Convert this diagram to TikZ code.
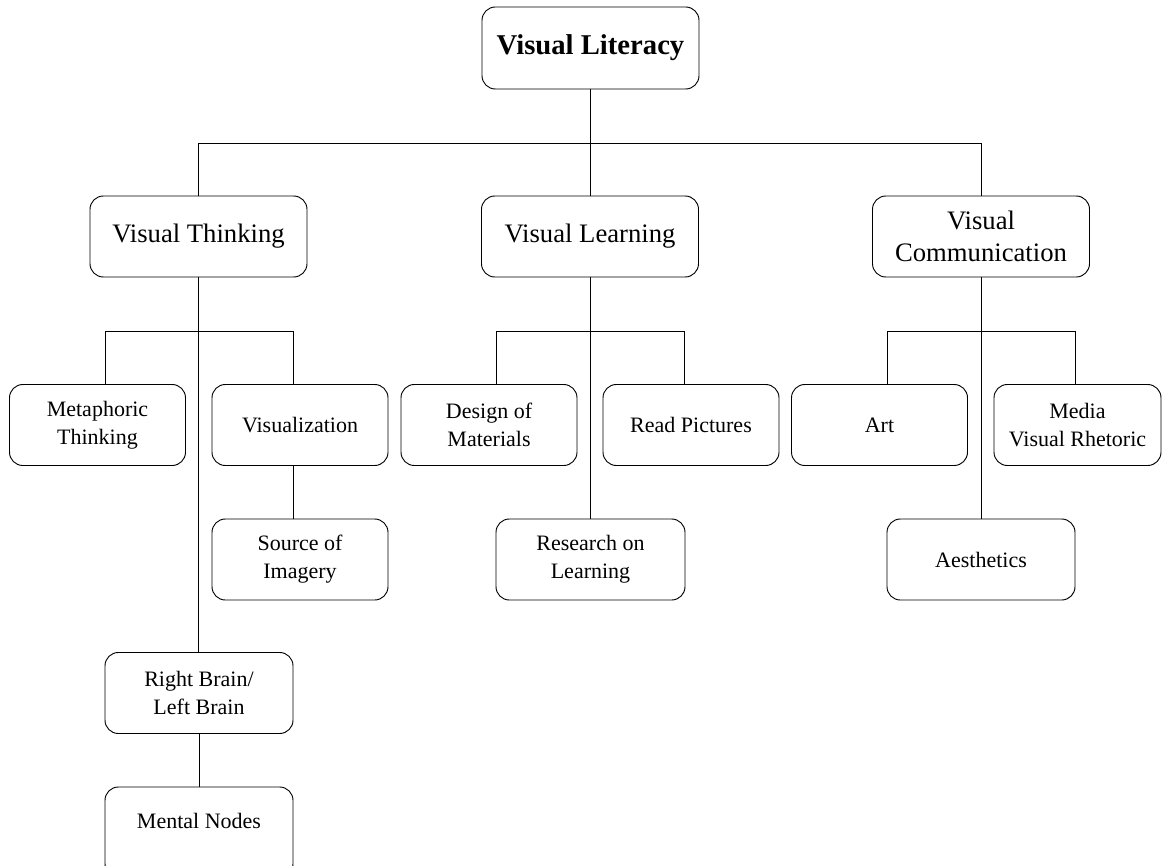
\documentclass[tikz,border=0pt]{standalone}
\usepackage{fontspec}
\setmainfont{Liberation Serif}
\usetikzlibrary{positioning}
\usetikzlibrary{calc}

\begin{document}
\begin{tikzpicture}[x=0.75pt, y=-0.75pt, line width=0.7pt,
    box/.style={draw=black, rounded corners=10pt, align=center, inner sep=2pt},
    topbox/.style={box, minimum width=217*0.75pt, minimum height=82*0.75pt, font=\fontsize{21.5}{26}\selectfont\bfseries},
    midbox/.style={box, minimum width=217*0.75pt, minimum height=81*0.75pt, font=\fontsize{20}{24}\selectfont},
    leafbox/.style={box, minimum width=176*0.75pt, minimum height=81*0.75pt, font=\fontsize{16.5}{21}\selectfont}]
      % Page frame, pixel units
      \clip (0,0) rectangle (1162,866);
      % Root and main branches
      \node[topbox] (lit) at (590.5,48) {Visual Literacy};
      \node[midbox] (think) at (198.5,236.5) {Visual Thinking};
      \node[midbox] (learn) at (590,236.5) {Visual Learning};
      \node[midbox] (comm) at (981,236.5) {Visual\\Communication};
      % Visual thinking leaves
      \node[leafbox] (meta) at (97.5,425) {Metaphoric\\Thinking};
      \node[leafbox] (visz) at (300,425) {Visualization};
      \node[leafbox] (src) at (300,559.5) {Source of\\Imagery};
      \node[leafbox, minimum width=188*0.75pt] (rb) at (199,693) {Right Brain/\\Left Brain};
      \node[leafbox, minimum width=188*0.75pt, minimum height=90*0.75pt, text depth=16pt] (mn) at (199,832) {Mental Nodes};
      % Visual learning leaves
      \node[leafbox] (design) at (489,425) {Design of\\Materials};
      \node[leafbox] (read) at (691,425) {Read Pictures};
      \node[leafbox, minimum width=189*0.75pt] (res) at (590.5,559.5) {Research on\\Learning};
      % Visual communication leaves
      \node[leafbox] (art) at (879.5,425) {Art};
      \node[leafbox, minimum width=167*0.75pt] (media) at (1077.5,425) {Media\\Visual Rhetoric};
      \node[leafbox, minimum width=188*0.75pt] (aes) at (981,559.5) {Aesthetics};
      % Top bar
      \coordinate (bar) at (0,143);
      \draw (lit.south) -- (lit.south |- bar);
      \draw (think.north) -- (think.north |- bar) -- (comm.north |- bar) -- (comm.north);
      \draw (learn.north) -- (learn.north |- bar);
      % Thinking branch
      \coordinate (mt) at (105,331);
      \coordinate (vz) at (293,331);
      \draw (think.south) -- (think.south |- rb.north);
      \draw (mt |- meta.north) -- (mt) -- (vz) -- (vz |- visz.north);
      \draw (vz |- visz.south) -- (vz |- src.north);
      \draw (rb.south) -- (mn.north);
      % Learning branch
      \coordinate (dm) at (496,331);
      \coordinate (rp) at (684,331);
      \draw (learn.south) -- (learn.south |- res.north);
      \draw (dm |- design.north) -- (dm) -- (rp) -- (rp |- read.north);
      % Communication branch
      \coordinate (ar) at (887,331);
      \coordinate (md) at (1075,331);
      \draw (comm.south) -- (comm.south |- aes.north);
      \draw (ar |- art.north) -- (ar) -- (md) -- (md |- media.north);
    \end{tikzpicture}
\end{document}
